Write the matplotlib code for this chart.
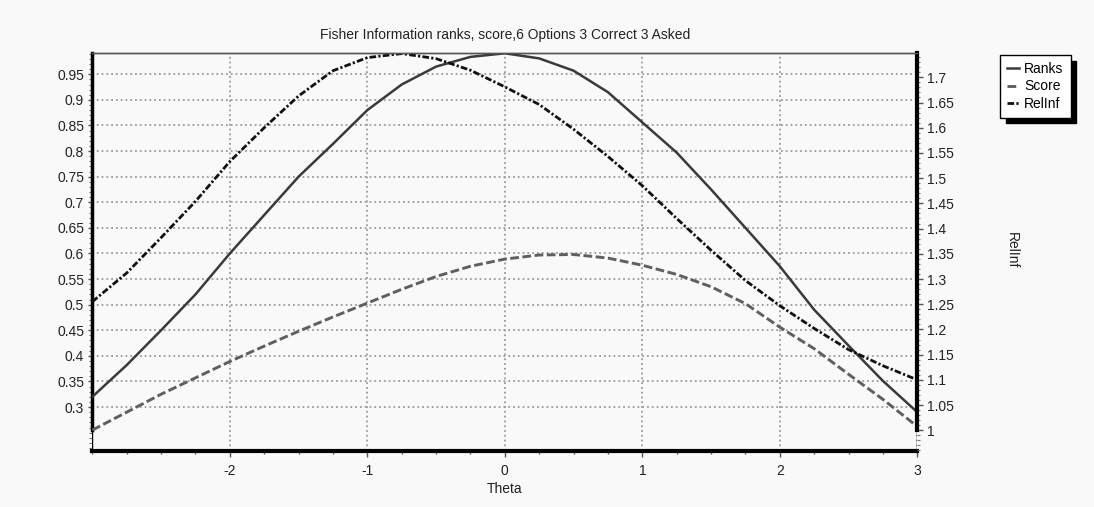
import matplotlib
matplotlib.use("Agg")
import matplotlib.pyplot as plt
from matplotlib.ticker import MultipleLocator, FuncFormatter

plt.rcParams['font.family'] = ['Liberation Sans', 'DejaVu Sans']
plt.rcParams['axes.unicode_minus'] = False

# data
theta = [-3.0, -2.75, -2.5, -2.25, -2.0, -1.75, -1.5, -1.25, -1.0, -0.75, -0.5, -0.25,
         0.0, 0.25, 0.5, 0.75, 1.0, 1.25, 1.5, 1.75, 2.0, 2.25, 2.5, 2.75, 3.0]
ranks = [0.320, 0.382, 0.450, 0.520, 0.600, 0.675, 0.750, 0.814, 0.880, 0.930, 0.965, 0.984,
         0.991, 0.981, 0.957, 0.915, 0.856, 0.797, 0.725, 0.650, 0.575, 0.490, 0.420, 0.351, 0.290]
score = [0.255, 0.290, 0.325, 0.357, 0.389, 0.419, 0.448, 0.476, 0.503, 0.530, 0.555, 0.575,
         0.589, 0.597, 0.598, 0.591, 0.577, 0.559, 0.535, 0.502, 0.456, 0.414, 0.364, 0.315, 0.262]
relinf = [1.255, 1.312, 1.382, 1.454, 1.533, 1.600, 1.663, 1.713, 1.739, 1.747, 1.737, 1.714,
          1.681, 1.646, 1.597, 1.543, 1.485, 1.420, 1.357, 1.297, 1.247, 1.202, 1.160, 1.128, 1.100]

title = "Fisher Information ranks, score,6 Options 3 Correct 3 Asked"
bg = '#f9f9f9'

fig = plt.figure(figsize=(10.94, 5.07), dpi=100, facecolor=bg)
ax = fig.add_axes([0.0844, 0.1099, 0.7541, 0.785])
ax.set_facecolor(bg)
ax2 = ax.twinx()

l1, = ax.plot(theta, ranks, color='#3a3a3a', lw=1.8, label='Ranks', zorder=3)
l2, = ax.plot(theta, score, color='#5f5f5f', lw=2.1, dashes=(3, 1.2), label='Score', zorder=3)
l3, = ax2.plot(theta, relinf, color='#111111', lw=2.0, dashes=(2.4, 0.8, 0.8, 0.8), label='RelInf')

ax.set_xlim(-3, 3)
ax.set_ylim(0.2136, 0.991)
ax2.set_ylim(0.9584, 1.7476)

# ticks
ax.set_xticks([-2, -1, 0, 1, 2, 3])
ax.xaxis.set_minor_locator(MultipleLocator(0.25))
ax.set_yticks([0.3 + 0.05 * i for i in range(14)])
ax.yaxis.set_minor_locator(MultipleLocator(0.01))
ax2.set_yticks([1.0 + 0.05 * i for i in range(15)])
ax2.yaxis.set_minor_locator(MultipleLocator(0.01))
fmt = FuncFormatter(lambda v, p: '%g' % round(v, 2))
ax.yaxis.set_major_formatter(fmt)
ax2.yaxis.set_major_formatter(fmt)

ax.tick_params(axis='x', which='major', direction='out', length=4, width=1, pad=5,
               labelsize=10, colors='#555555', labelcolor='#222222')
ax.tick_params(axis='x', which='minor', direction='out', length=2.5, width=1, colors='#555555')
ax.tick_params(axis='y', which='major', direction='out', length=3, width=1, pad=3,
               labelsize=10, colors='#555555', labelcolor='#222222')
ax.tick_params(axis='y', which='minor', direction='out', length=2, width=0.8, colors='#777777')
ax2.tick_params(axis='y', which='major', direction='out', length=4, width=1, pad=3,
                labelsize=10, colors='#555555', labelcolor='#222222')
ax2.tick_params(axis='y', which='minor', direction='out', length=2, width=0.8, colors='#777777')

# grid
ax.grid(True, which='major', axis='both', color='#9a9a9a', linestyle=':', lw=1.3)
ax.set_axisbelow(True)

# spines
for a in (ax, ax2):
    a.spines['top'].set_color('#555555')
    a.spines['top'].set_linewidth(1)
ax.spines['bottom'].set_linewidth(3)
ax.spines['bottom'].set_color('black')
ax2.spines['bottom'].set_visible(False)
ax2.spines['left'].set_visible(False)
ax.spines['right'].set_visible(False)
ax.spines['left'].set_linewidth(2.5)
ax.spines['left'].set_bounds(min(score), 0.991)
ax2.spines['right'].set_linewidth(3)
ax2.spines['right'].set_bounds(1.0, 1.7476)
ax.axvline(-3, color='black', lw=1, zorder=1)
ax.axvline(3, color='black', lw=1, zorder=1)

fig.text(505 / 1094, 1 - 35 / 507, title, ha='center', va='center', fontsize=10, color='#222222')
fig.text(505 / 1094, 1 - 489 / 507, 'Theta', ha='center', va='center', fontsize=10, color='#222222')
fig.text(1012 / 1094, 1 - 250 / 507, 'RelInf', ha='center', va='center', rotation=270,
         fontsize=10, color='#222222')

leg = fig.legend(handles=[l1, l2, l3], loc='upper left', bbox_to_anchor=(1000 / 1094, 1 - 55 / 507),
                 fontsize=10, frameon=True, fancybox=False, handlelength=0.9, handletextpad=0.35,
                 labelspacing=0.25, borderpad=0.5, borderaxespad=0,
                 shadow={'ox': 4, 'oy': -4, 'color': 'black', 'alpha': 1})
leg.get_frame().set_edgecolor('black')
leg.get_frame().set_facecolor('white')
leg.get_frame().set_linewidth(1)

fig.savefig('out.png', dpi=100, facecolor=bg)
